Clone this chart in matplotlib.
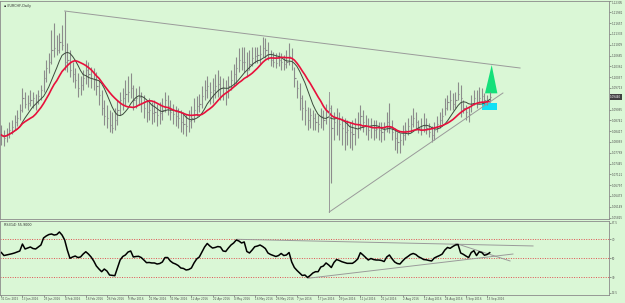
import numpy as np
import pandas as pd
import matplotlib
matplotlib.use('Agg')
import matplotlib.pyplot as plt
from matplotlib.patches import Polygon, Rectangle

# daily bars, 31 Dec 2015 .. 16 Sep 2016
highs = [1.0860, 1.0845, 1.0851, 1.0869, 1.0875, 1.0890, 1.0905, 1.0923, 1.0971, 1.0959,
         1.0950, 1.0965, 1.0959, 1.0953, 1.0965, 1.0980, 1.1025, 1.1055, 1.1076, 1.1145,
         1.1166, 1.1130, 1.1136, 1.1160, 1.1202, 1.1106, 1.1085, 1.1049, 1.1031, 1.1016,
         1.1007, 1.1025, 1.1055, 1.1049, 1.1034, 1.1031, 1.1019, 1.0995, 1.0965, 1.0935,
         1.0920, 1.0905, 1.0899, 1.0911, 1.0935, 1.0959, 1.0971, 1.0995, 1.1007, 1.1016,
         1.0980, 1.0971, 1.0977, 1.0959, 1.0950, 1.0935, 1.0941, 1.0929, 1.0935, 1.0923,
         1.0929, 1.0941, 1.0959, 1.0950, 1.0935, 1.0923, 1.0917, 1.0911, 1.0905, 1.0899,
         1.0893, 1.0905, 1.0917, 1.0941, 1.0947, 1.0953, 1.0977, 1.0995, 1.1007, 1.0989,
         1.1001, 1.1013, 1.1025, 1.1007, 1.1001, 1.0995, 1.1007, 1.1025, 1.1043, 1.1064,
         1.1091, 1.1094, 1.1094, 1.1079, 1.1085, 1.1094, 1.1094, 1.1094, 1.1100, 1.1124,
         1.1121, 1.1109, 1.1085, 1.1079, 1.1076, 1.1079, 1.1076, 1.1070, 1.1085, 1.1106,
         1.1091, 1.1034, 1.0995, 1.0986, 1.0950, 1.0935, 1.0914, 1.0911, 1.0905, 1.0896,
         1.0890, 1.0911, 1.0905, 1.0923, 1.0935, 1.0920, 1.0899, 1.0911, 1.0899, 1.0887,
         1.0881, 1.0875, 1.0869, 1.0875, 1.0881, 1.0899, 1.0920, 1.0905, 1.0890, 1.0881,
         1.0881, 1.0875, 1.0875, 1.0869, 1.0869, 1.0869, 1.0899, 1.0926, 1.0875, 1.0851,
         1.0839, 1.0836, 1.0860, 1.0869, 1.0881, 1.0890, 1.0911, 1.0899, 1.0875, 1.0881,
         1.0896, 1.0881, 1.0866, 1.0857, 1.0869, 1.0887, 1.0899, 1.0911, 1.0941, 1.0950,
         1.0965, 1.0956, 1.0959, 1.0989, 1.0980, 1.0935, 1.0920, 1.0914, 1.0950, 1.0965,
         1.0965, 1.0974, 1.0971, 1.0956, 1.0950, 1.0959]
lows = [1.0800, 1.0797, 1.0809, 1.0821, 1.0833, 1.0845, 1.0857, 1.0875, 1.0899, 1.0911,
        1.0905, 1.0917, 1.0911, 1.0905, 1.0923, 1.0935, 1.0959, 1.0989, 1.1016, 1.1043,
        1.1064, 1.1070, 1.1076, 1.1085, 1.1025, 1.1019, 1.1004, 1.0989, 1.0971, 1.0944,
        1.0950, 1.0965, 1.0983, 1.0974, 1.0971, 1.0965, 1.0950, 1.0920, 1.0890, 1.0860,
        1.0851, 1.0839, 1.0836, 1.0845, 1.0860, 1.0890, 1.0905, 1.0920, 1.0929, 1.0941,
        1.0905, 1.0911, 1.0920, 1.0899, 1.0881, 1.0869, 1.0875, 1.0863, 1.0869, 1.0857,
        1.0863, 1.0875, 1.0899, 1.0890, 1.0875, 1.0863, 1.0857, 1.0851, 1.0839, 1.0833,
        1.0827, 1.0839, 1.0851, 1.0869, 1.0887, 1.0899, 1.0911, 1.0935, 1.0941, 1.0923,
        1.0926, 1.0941, 1.0944, 1.0935, 1.0935, 1.0920, 1.0941, 1.0965, 1.0977, 1.0983,
        1.1019, 1.1025, 1.1019, 1.1004, 1.1025, 1.1037, 1.1046, 1.1046, 1.1043, 1.1064,
        1.1061, 1.1055, 1.1037, 1.1034, 1.1031, 1.1037, 1.1025, 1.1025, 1.1031, 1.1040,
        1.1025, 1.0974, 1.0941, 1.0905, 1.0875, 1.0860, 1.0845, 1.0851, 1.0845, 1.0845,
        1.0839, 1.0851, 1.0845, 1.0863, 1.0881, 1.0686, 1.0815, 1.0830, 1.0815, 1.0800,
        1.0785, 1.0800, 1.0791, 1.0785, 1.0800, 1.0821, 1.0845, 1.0839, 1.0830, 1.0815,
        1.0821, 1.0815, 1.0821, 1.0815, 1.0809, 1.0815, 1.0839, 1.0836, 1.0815, 1.0785,
        1.0776, 1.0776, 1.0800, 1.0815, 1.0830, 1.0839, 1.0854, 1.0845, 1.0836, 1.0830,
        1.0839, 1.0833, 1.0824, 1.0809, 1.0815, 1.0839, 1.0851, 1.0863, 1.0890, 1.0905,
        1.0905, 1.0905, 1.0911, 1.0935, 1.0884, 1.0896, 1.0875, 1.0869, 1.0899, 1.0920,
        1.0911, 1.0926, 1.0929, 1.0920, 1.0920, 1.0929]
closes = [1.0830, 1.0821, 1.0833, 1.0845, 1.0854, 1.0869, 1.0881, 1.0905, 1.0941, 1.0923,
          1.0926, 1.0935, 1.0941, 1.0929, 1.0947, 1.0965, 1.1001, 1.1031, 1.1049, 1.1085,
          1.1091, 1.1085, 1.1109, 1.1100, 1.1049, 1.1055, 1.1025, 1.1013, 1.0995, 1.0971,
          1.0980, 1.1001, 1.1025, 1.1013, 1.1001, 1.0995, 1.0977, 1.0950, 1.0911, 1.0887,
          1.0881, 1.0860, 1.0851, 1.0875, 1.0905, 1.0935, 1.0941, 1.0953, 1.0959, 1.0971,
          1.0935, 1.0941, 1.0944, 1.0926, 1.0911, 1.0899, 1.0905, 1.0896, 1.0899, 1.0890,
          1.0896, 1.0905, 1.0935, 1.0917, 1.0899, 1.0893, 1.0887, 1.0881, 1.0869, 1.0863,
          1.0857, 1.0872, 1.0881, 1.0905, 1.0917, 1.0923, 1.0947, 1.0965, 1.0977, 1.0959,
          1.0965, 1.0977, 1.0983, 1.0971, 1.0971, 1.0959, 1.0977, 1.0995, 1.1013, 1.1031,
          1.1055, 1.1049, 1.1049, 1.1025, 1.1043, 1.1061, 1.1067, 1.1070, 1.1073, 1.1091,
          1.1085, 1.1073, 1.1055, 1.1049, 1.1046, 1.1055, 1.1049, 1.1043, 1.1049, 1.1067,
          1.1049, 1.1001, 1.0971, 1.0941, 1.0911, 1.0905, 1.0875, 1.0890, 1.0881, 1.0869,
          1.0863, 1.0887, 1.0875, 1.0899, 1.0911, 1.0851, 1.0869, 1.0881, 1.0863, 1.0851,
          1.0839, 1.0845, 1.0839, 1.0833, 1.0851, 1.0863, 1.0887, 1.0869, 1.0857, 1.0845,
          1.0851, 1.0845, 1.0848, 1.0845, 1.0839, 1.0845, 1.0869, 1.0854, 1.0839, 1.0821,
          1.0809, 1.0815, 1.0830, 1.0845, 1.0857, 1.0863, 1.0881, 1.0869, 1.0851, 1.0845,
          1.0857, 1.0851, 1.0839, 1.0830, 1.0845, 1.0863, 1.0875, 1.0887, 1.0911, 1.0929,
          1.0935, 1.0923, 1.0935, 1.0953, 1.0941, 1.0911, 1.0899, 1.0893, 1.0923, 1.0941,
          1.0929, 1.0941, 1.0947, 1.0935, 1.0935, 1.0944]
rsi = [56.1, 52.9, 53.5, 54.0, 54.8, 55.6, 56.6, 57.7, 65.0, 59.8,
       60.8, 61.9, 60.3, 59.8, 61.9, 64.0, 71.4, 73.5, 75.0, 75.6,
       74.5, 75.0, 77.7, 74.5, 69.3, 58.7, 50.0, 51.4, 52.4, 50.8,
       51.4, 54.5, 56.9, 54.5, 51.4, 47.2, 41.9, 38.7, 35.9, 38.7,
       36.6, 32.4, 32.1, 31.7, 39.8, 48.2, 51.9, 53.5, 56.6, 57.7,
       51.4, 51.9, 52.1, 50.8, 48.2, 45.4, 45.6, 45.1, 45.1, 44.0,
       44.5, 46.1, 50.8, 50.8, 47.2, 45.1, 44.0, 42.4, 39.8, 39.3,
       37.7, 38.2, 39.8, 45.1, 49.3, 51.4, 56.6, 61.9, 65.6, 62.9,
       60.8, 61.4, 62.4, 61.9, 57.7, 57.2, 60.8, 64.0, 66.1, 69.3,
       68.2, 66.1, 67.2, 57.2, 55.6, 58.7, 62.2, 62.9, 64.0, 62.4,
       60.3, 55.6, 54.0, 52.9, 51.9, 52.9, 55.1, 52.9, 53.5, 56.1,
       46.1, 40.3, 37.2, 34.5, 31.9, 32.4, 29.8, 31.9, 34.5, 35.9,
       35.9, 40.8, 41.9, 45.1, 43.0, 40.3, 45.6, 48.7, 47.7, 46.4,
       45.6, 44.7, 44.7, 44.7, 46.6, 49.3, 55.9, 53.5, 50.8, 48.2,
       49.8, 48.7, 48.2, 48.2, 47.7, 46.6, 51.4, 53.5, 49.5, 46.1,
       44.5, 44.0, 47.2, 50.0, 51.9, 54.0, 55.1, 54.0, 51.7, 50.3,
       48.7, 48.4, 47.7, 47.2, 50.3, 51.7, 52.9, 54.5, 58.7, 61.4,
       60.5, 62.4, 64.0, 64.5, 55.6, 54.2, 52.4, 50.8, 56.1, 58.0,
       52.9, 56.9, 56.1, 53.2, 54.0, 55.9]

date_labels = ['31 Dec 2015', '13 Jan 2016', '25 Jan 2016', '4 Feb 2016', '16 Feb 2016',
               '26 Feb 2016', '9 Mar 2016', '21 Mar 2016', '31 Mar 2016', '12 Apr 2016',
               '22 Apr 2016', '4 May 2016', '16 May 2016', '26 May 2016', '7 Jun 2016',
               '17 Jun 2016', '29 Jun 2016', '11 Jul 2016', '21 Jul 2016', '2 Aug 2016',
               '12 Aug 2016', '24 Aug 2016', '5 Sep 2016', '15 Sep 2016']
# 1.09389 sits under the current-price box, so it is left out
price_ticks = [1.12305, 1.11981, 1.11657, 1.11333, 1.11009, 1.10685, 1.10361, 1.10037,
               1.09713, 1.09065, 1.08741, 1.08417, 1.08093, 1.07769, 1.07445,
               1.07121, 1.06797, 1.06473, 1.06149, 1.05825]
rsi_levels = [70, 50, 30]
rsi_ticks = [87.5, 70, 50, 30, 13.5]

# drawn objects: (bar, price) / (bar, rsi)
trend_upper = [(24, 1.1202), (196.5, 1.1031)]
trend_vert = [(124.2, 1.0959), (124.2, 1.0599)]
trend_lower = [(124.2, 1.0599), (190.0, 1.0956)]
green_arrow = [(183.2, 1.0955), (185.75, 1.1040), (187.9, 1.0955)]
cyan_box = [(182.0, 1.0905), (187.9, 1.0927)]
rsi_line_upper = [(89.3, 70.0), (201.4, 63.0)]
rsi_line_lower = [(116.2, 29.0), (193.8, 54.5)]
rsi_line_down = [(172.2, 65.6), (192.7, 47.2)]

bg = '#daf7d6'
bar_col = '#8c8c8c'
line_col = '#9a9a9a'
txt_col = '#505050'
fs = 2.0

idx = np.arange(len(closes))
c = pd.Series(closes)
ma_fast = c.rolling(8, min_periods=1).mean()
ma_slow = c.rolling(13, min_periods=1).mean()

fig = plt.figure(figsize=(6.25, 3.03), dpi=100)
fig.patch.set_facecolor(bg)
ax = fig.add_axes([0.0, 0.2772, 0.9744, 0.7195])
ax2 = fig.add_axes([0.0, 0.0264, 0.9744, 0.2442])
xmax = 609 / 2.64 - 0.5

# ---- main chart
ax.set_facecolor(bg)
ax.vlines(idx, lows, highs, color=bar_col, lw=0.8)
ax.hlines(closes, idx, idx + 0.45, color=bar_col, lw=0.8)
ax.plot(idx, ma_fast, color='#3c4a3c', lw=0.7)
ax.plot(idx, ma_slow, color='#e8103c', lw=1.2)

for seg in (trend_upper, trend_vert, trend_lower):
    ax.plot([p[0] for p in seg], [p[1] for p in seg], color=line_col, lw=0.7)
ax.add_patch(Polygon(green_arrow, closed=True, facecolor='#14e07a', edgecolor='none'))
(bx0, by0), (bx1, by1) = cyan_box
ax.add_patch(Rectangle((bx0, by0), bx1 - bx0, by1 - by0, facecolor='#10e0f4', edgecolor='none'))

ax.set_xlim(-0.5, xmax)
ax.set_ylim(1.0578, 1.1232)
ax.yaxis.tick_right()
ax.set_yticks(price_ticks)
ax.set_yticklabels([f'{p:.5f}' for p in price_ticks])
ax.tick_params(axis='y', length=1.2, width=0.4, labelsize=fs, colors=txt_col, pad=0.6)
ax.tick_params(axis='x', length=0, labelbottom=False)
ax.get_yticklabels()[0].set_va('top')
ax.text(0.006, 0.985, '\u25aa EURCHF,Daily', transform=ax.transAxes, fontsize=fs + 0.4,
        color='#303030', va='top')
ax.text(1.002, closes[-1], f'{closes[-1]:.5f}', transform=ax.get_yaxis_transform(),
        fontsize=fs, color='white', va='center', ha='left',
        bbox=dict(boxstyle='square,pad=0.25', facecolor='#404040', edgecolor='none'),
        clip_on=False)

# ---- RSI window
ax2.set_facecolor(bg)
for lv in rsi_levels:
    ax2.axhline(lv, color='#e05050', lw=0.7, ls=(0, (1, 1.5)))
for seg in (rsi_line_upper, rsi_line_lower, rsi_line_down):
    ax2.plot([p[0] for p in seg], [p[1] for p in seg], color=line_col, lw=0.7)
ax2.plot(idx, rsi, color='black', lw=1.1)
ax2.set_xlim(-0.5, xmax)
ax2.set_ylim(11.37, 89.26)
ax2.yaxis.tick_right()
ax2.set_yticks(rsi_ticks)
ax2.set_yticklabels([f'{v:g}' for v in rsi_ticks])
ax2.tick_params(axis='y', length=1.2, width=0.4, labelsize=fs, colors=txt_col, pad=0.6)
ax2.set_xticks(np.arange(len(date_labels)) * 8)
ax2.set_xticklabels(date_labels)
ax2.tick_params(axis='x', length=1.2, width=0.4, labelsize=fs, colors=txt_col, pad=0.5)
for tl in ax2.get_xticklabels():
    tl.set_ha('left')
ax2.text(0.006, 0.97, f'RSI(14) {rsi[-1]:.4f}', transform=ax2.transAxes, fontsize=fs + 0.4,
         color='#303030', va='top')

for a in (ax, ax2):
    for s in a.spines.values():
        s.set_color('#8a8a8a')
        s.set_linewidth(0.6)

fig.savefig('out.png', dpi=100, facecolor=bg)
